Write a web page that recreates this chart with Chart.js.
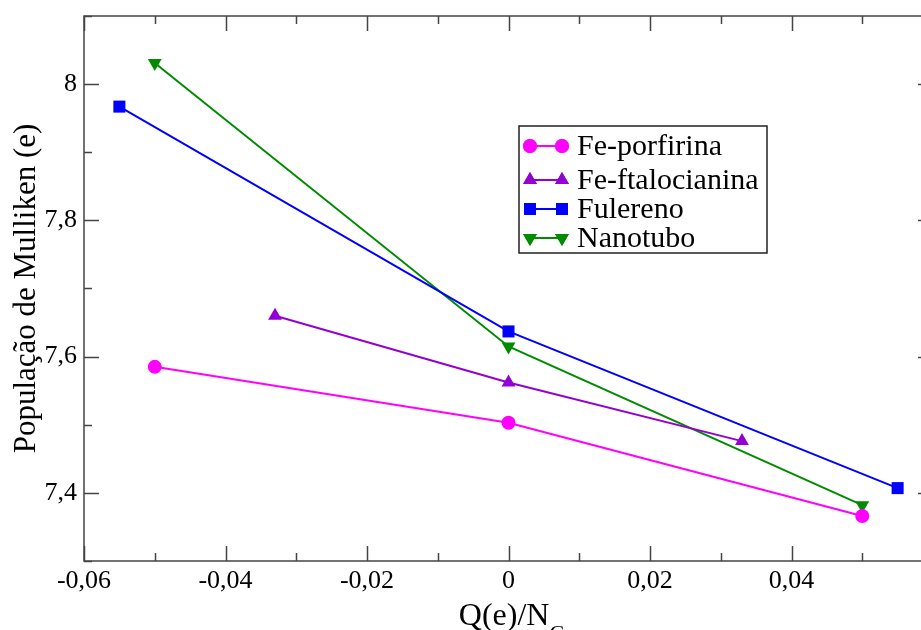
<!DOCTYPE html>
<html>
<head>
<meta charset="utf-8">
<script src="https://cdn.jsdelivr.net/npm/chart.js@4/dist/chart.umd.min.js"></script>
<style>
html,body{margin:0;padding:0;overflow:hidden;background:#fff;width:921px;height:630px;}
#wrap{width:950px;height:630px;}
</style>
</head>
<body>
<div id="wrap"><canvas id="c" width="950" height="630"></canvas></div>
<script>
// ---- data ----
const seriesNames = ['Fe-porfirina', 'Fe-ftalocianina', 'Fulereno', 'Nanotubo'];
const porfX = [-0.05, 0, 0.05];
const porfY = [7.585, 7.503, 7.366];
const ftaloX = [-0.033, 0, 0.033];
const ftaloY = [7.660, 7.562, 7.476];
const fulX = [-0.055, 0, 0.055];
const fulY = [7.967, 7.637, 7.407];
const nanoX = [-0.05, 0, 0.05];
const nanoY = [8.031, 7.615, 7.382];
const xTickVals = [-0.06, -0.04, -0.02, 0, 0.02, 0.04];
const xMajorMarks = [-0.06, -0.04, -0.02, 0, 0.02, 0.04, 0.06];
const xMinorMarks = [-0.05, -0.03, -0.01, 0.01, 0.03, 0.05];
const yTickVals = [7.4, 7.6, 7.8, 8.0];
const yMinorMarks = [7.3, 7.5, 7.7, 7.9, 8.1];
const xTitle = 'Q(e)/N';
const xTitleSub = 'C';
const yTitle = 'População de Mulliken (e)';

const colors = ['#ff00ff', '#9400d3', '#0000ff', '#008b00'];
const styles = [
  {pointStyle: 'circle', radius: 7, rotation: 0},
  {pointStyle: 'triangle', radius: 8, rotation: 0},
  {pointStyle: 'rect', radius: 8.5, rotation: 0},
  {pointStyle: 'triangle', radius: 8, rotation: 180}
];
const xs = [porfX, ftaloX, fulX, nanoX];
const ys = [porfY, ftaloY, fulY, nanoY];

const FONT = '"Liberation Serif", "DejaVu Serif", serif';

const datasets = seriesNames.map((n, i) => ({
  label: n,
  data: xs[i].map((x, j) => ({x: x, y: ys[i][j]})),
  borderColor: colors[i],
  backgroundColor: colors[i],
  borderWidth: 2,
  pointStyle: styles[i].pointStyle,
  pointRadius: styles[i].radius,
  pointHoverRadius: styles[i].radius,
  pointRotation: styles[i].rotation,
  pointBorderWidth: 0,
  showLine: true,
  tension: 0
}));

function fmtX(v) { const r = Math.round(v * 100) / 100; return r === 0 ? '0' : String(r).replace('.', ','); }
function fmtY(v) { const r = Math.round(v * 10) / 10; return String(r).replace('.', ','); }

const framePlugin = {
  id: 'frame',
  afterDraw(chart) {
    const ctx = chart.ctx, a = chart.chartArea;
    const xs_ = chart.scales.x, ys_ = chart.scales.y;
    ctx.save();
    ctx.strokeStyle = '#444';
    ctx.lineWidth = 1.5;
    ctx.strokeRect(a.left, a.top, a.right - a.left, a.bottom - a.top);
    ctx.beginPath();
    const mark = (arr, len, horiz) => {
      arr.forEach(v => {
        if (horiz) {
          const p = Math.round(xs_.getPixelForValue(v)) + 0.5;
          ctx.moveTo(p, a.bottom); ctx.lineTo(p, a.bottom - len);
          ctx.moveTo(p, a.top); ctx.lineTo(p, a.top + len);
        } else {
          const p = Math.round(ys_.getPixelForValue(v)) + 0.5;
          ctx.moveTo(a.left, p); ctx.lineTo(a.left + len, p);
          ctx.moveTo(a.right, p); ctx.lineTo(a.right - len, p);
        }
      });
    };
    mark(xMajorMarks, 15, true);
    mark(xMinorMarks, 8, true);
    mark(yTickVals, 15, false);
    mark(yMinorMarks, 8, false);
    ctx.stroke();

    // axis titles
    ctx.fillStyle = '#000';
    ctx.font = '31px ' + FONT;
    ctx.textBaseline = 'alphabetic';
    ctx.save();
    ctx.translate(35, (a.top + a.bottom) / 2);
    ctx.rotate(-Math.PI / 2);
    ctx.textAlign = 'center';
    ctx.fillText(yTitle, 0, 0);
    ctx.restore();

    ctx.font = '32px ' + FONT;
    const w1 = ctx.measureText(xTitle).width;
    ctx.font = '22px ' + FONT;
    const w2 = ctx.measureText(xTitleSub).width;
    let sx = xs_.getPixelForValue(0) - (w1 + w2) / 2 + 3;
    ctx.textAlign = 'left';
    ctx.font = '32px ' + FONT;
    ctx.fillText(xTitle, sx, 625);
    ctx.font = '22px ' + FONT;
    ctx.fillText(xTitleSub, sx + w1, 640);

    // legend
    const L = {left: 519, top: 126, right: 767, bottom: 253};
    ctx.fillStyle = '#fff';
    ctx.fillRect(L.left, L.top, L.right - L.left, L.bottom - L.top);
    ctx.strokeStyle = '#222';
    ctx.lineWidth = 1.5;
    ctx.strokeRect(L.left, L.top, L.right - L.left, L.bottom - L.top);
    const rows = [146, 180, 209, 238];
    seriesNames.forEach((n, i) => {
      const y = rows[i];
      ctx.strokeStyle = colors[i];
      ctx.lineWidth = 2;
      ctx.beginPath(); ctx.moveTo(530, y); ctx.lineTo(562, y); ctx.stroke();
      ctx.fillStyle = colors[i];
      [530, 562].forEach(px => {
        Chart.helpers.drawPoint(ctx, {pointStyle: styles[i].pointStyle, radius: styles[i].radius, rotation: styles[i].rotation, borderWidth: 0}, px, y);
        ctx.fill();
      });
      ctx.fillStyle = '#000';
      ctx.font = '30px ' + FONT;
      ctx.textAlign = 'left';
      ctx.textBaseline = 'middle';
      ctx.fillText(n, 577, y + 1);
    });
    ctx.restore();
  }
};

new Chart(document.getElementById('c'), {
  type: 'scatter',
  data: {datasets: datasets},
  options: {
    responsive: false,
    devicePixelRatio: 1,
    animation: false,
    layout: {padding: {left: 0, right: 17, top: 16, bottom: 0}},
    plugins: {legend: {display: false}, tooltip: {enabled: false}},
    elements: {point: {borderWidth: 0}},
    scales: {
      x: {
        type: 'linear', min: -0.06, max: 0.06,
        grid: {display: false, drawTicks: false},
        border: {display: false},
        afterBuildTicks: s => { s.ticks = xTickVals.map(v => ({value: v})); },
        afterFit: s => { s.height = 69; s.paddingLeft = 0; s.paddingRight = 0; },
        ticks: {
          autoSkip: false, maxRotation: 0, padding: 5,
          color: '#000', font: {family: FONT, size: 26},
          callback: v => fmtX(v)
        }
      },
      y: {
        type: 'linear', min: 7.3, max: 8.1,
        grid: {display: false, drawTicks: false},
        border: {display: false},
        afterBuildTicks: s => { s.ticks = yTickVals.map(v => ({value: v})); },
        afterFit: s => { s.width = 84; s.paddingTop = 0; s.paddingBottom = 0; },
        ticks: {
          autoSkip: false, padding: 7,
          color: '#000', font: {family: FONT, size: 26},
          callback: v => fmtY(v)
        }
      }
    }
  },
  plugins: [framePlugin]
});
</script>
</body>
</html>
